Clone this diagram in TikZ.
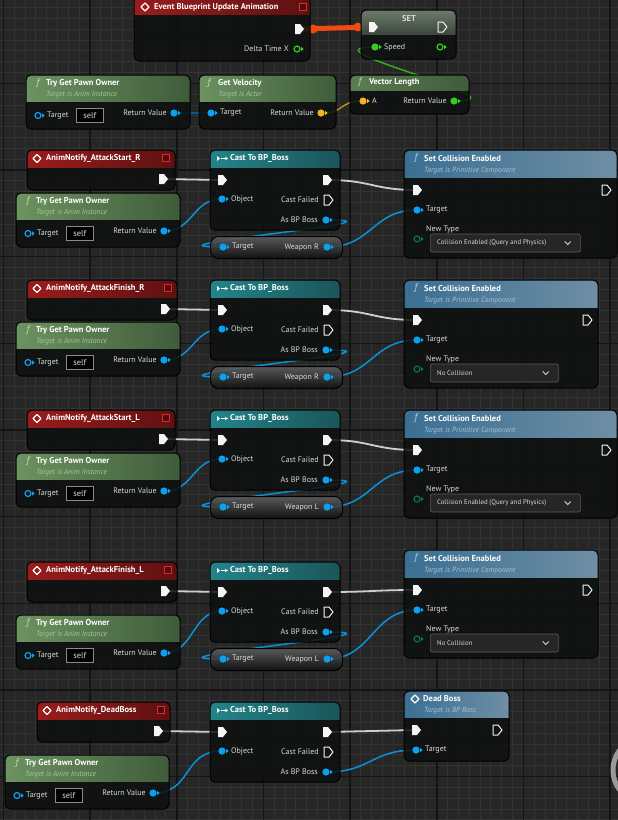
\documentclass[tikz,border=0pt]{standalone}
\usepackage{fontspec}
\setmainfont{PT Sans}
\usetikzlibrary{arrows.meta}

\definecolor{gridbg}{HTML}{262626}
\definecolor{gridminor}{HTML}{333333}
\definecolor{gridmajor}{HTML}{141414}
\definecolor{nodebg}{HTML}{0E1011}
\definecolor{evred}{HTML}{9B1C1C}
\definecolor{evreddark}{HTML}{5E1111}
\definecolor{fngreen}{HTML}{6D9361}
\definecolor{fngreendark}{HTML}{3F5C3A}
\definecolor{castteal}{HTML}{23848A}
\definecolor{casttealdark}{HTML}{1B5559}
\definecolor{callblue}{HTML}{3B6F92}
\definecolor{calllight}{HTML}{6E8EA4}
\definecolor{setgray}{HTML}{6B7C69}
\definecolor{pillgray}{HTML}{5E5E5E}
\definecolor{objblue}{HTML}{0AA2F0}
\definecolor{vecyellow}{HTML}{F2B51C}
\definecolor{floatgreen}{HTML}{38CC1E}
\definecolor{execwhite}{HTML}{F4F4F4}
\definecolor{execgray}{HTML}{CFCFCF}
\definecolor{enumteal}{HTML}{0C6E5A}
\definecolor{wireorange}{HTML}{EE4A12}
\definecolor{labelgray}{HTML}{D8D8D8}
\definecolor{subgreen}{HTML}{A6C69A}
\definecolor{subblue}{HTML}{A6C2D6}
\definecolor{fnlight}{HTML}{C6E4B2}
\definecolor{fnblue}{HTML}{BCD6EA}
\definecolor{stopred}{HTML}{E52828}
\definecolor{stopfill}{HTML}{4A0C0C}
\definecolor{selfgray}{HTML}{8A8A8A}
\definecolor{dropgray}{HTML}{5A5A5A}
\definecolor{ringgray}{HTML}{9A9A9A}

\pgfdeclarelayer{grid}
\pgfdeclarelayer{wires}
\pgfsetlayers{grid,wires,main}

\tikzset{
  bpnode/.style={draw=black, line width=1pt, fill=nodebg, fill opacity=0.86, rounded corners=5pt, anchor=north west, inner sep=0pt, outer sep=0pt},
  head/.style n args={3}{path picture={\shade[sharp corners, fill opacity=1, left color=#2, right color=#3] (path picture bounding box.north west) rectangle ([yshift=-#1]path picture bounding box.north east);}},
  vhead/.style n args={3}{path picture={\shade[sharp corners, fill opacity=1, top color=#2, bottom color=#3] (path picture bounding box.north west) rectangle ([yshift=-#1]path picture bounding box.north east);}},
  pill/.style={draw=black, line width=1pt, top color=pillgray, middle color=nodebg, bottom color=nodebg, fill opacity=0.9, rounded corners=8pt, anchor=north west, inner sep=0pt},
  title/.style={font=\bfseries\fontsize{8.5}{10}\selectfont, text=white, anchor=west, inner sep=0pt},
  sub/.style={font=\itshape\fontsize{7.5}{9}\selectfont, anchor=west, inner sep=0pt},
  lbl/.style={font=\fontsize{8}{9}\selectfont, text=labelgray, anchor=west, inner sep=0pt},
  fnicon/.style={font=\itshape\fontsize{9.5}{10}\selectfont, inner sep=0pt},
  selfbox/.style={draw=selfgray, line width=.7pt, fill=black, anchor=west, minimum width=27pt, minimum height=14pt, inner sep=0pt, font=\fontsize{8.5}{9}\selectfont, text=labelgray},
  dropbox/.style={draw=dropgray, line width=.7pt, fill=black!85, rounded corners=2pt, anchor=west, minimum height=18pt, inner sep=0pt},
  exec wire/.style={draw=execgray, line width=1.8pt},
  obj wire/.style={draw=objblue!90!black, line width=1.5pt},
  vec wire/.style={draw=vecyellow!85!black, line width=1.2pt},
  float wire/.style={draw=floatgreen!85!black, line width=1.5pt},
}

% pins
\newcommand{\xpin}[4]{%
  \coordinate (#1) at (#2,#3);
  \path[#4=execwhite, line width=1pt, line join=round] ([shift={(-4,-5)}]#1) -- ++(5,0) -- ++(4,5) -- ++(-4,5) -- ++(-5,0) -- cycle;}
\newcommand{\dpin}[4]{%
  \coordinate (#1) at (#2,#3);
  \fill[#4] (#1) circle (3.6pt) ([shift={(4.2,-2.2)}]#1) -- ++(2.4,2.2) -- ++(-2.4,2.2) -- cycle;}
\newcommand{\rpin}[4]{%
  \coordinate (#1) at (#2,#3);
  \draw[#4, line width=1.2pt] (#1) circle (3pt);
  \fill[#4] ([shift={(4.2,-2.2)}]#1) -- ++(2.4,2.2) -- ++(-2.4,2.2) -- cycle;}

% header icons
\newcommand{\evicon}[2]{\draw[white, line width=1.2pt, line join=round] (#1-4,#2) -- (#1,#2-4) -- (#1+4,#2) -- (#1,#2+4) -- cycle;}
\newcommand{\stopsq}[2]{\draw[stopred, line width=1pt, fill=stopfill] (#1-3.5,#2-3.5) rectangle (#1+3.5,#2+3.5);}
\newcommand{\casticon}[2]{\fill[white] (#1-4,#2-2.5) -- (#1-1,#2) -- (#1-4,#2+2.5) -- cycle;
  \draw[white, line width=.8pt, -{Stealth[length=3pt,width=3.5pt]}] (#1,#2) -- (#1+7,#2);}

% blueprint nodes
\newcommand{\notify}[5]{%
  \node[bpnode, head={17pt}{evred}{evreddark}, minimum width=#4, minimum height=40] (#1) at (#2,#3) {};
  \evicon{#2+10}{#3+8.5}
  \node[title] (#1-name) at (#2+19,#3+8.5) {#5};
  \stopsq{#2+#4-9}{#3+8}
  \xpin{#1-out}{#2+#4-12}{#3+29}{fill}}
\newcommand{\tgpo}[3]{%
  \node[bpnode, head={26pt}{fngreen}{fngreendark}, minimum width=164, minimum height=54] (#1) at (#2,#3) {};
  \node[fnicon, text=fnlight] (#1-f) at (#2+12,#3+8.5) {f};
  \node[title] (#1-name) at (#2+20,#3+8.5) {Try Get Pawn Owner};
  \node[sub, text=subgreen] (#1-sub) at (#2+20,#3+19.5) {Target is Anim Instance};
  \rpin{#1-tg}{#2+12}{#3+40.5}{objblue}
  \node[lbl] (#1-tl) at (#2+21,#3+40.5) {Target};
  \node[selfbox] (#1-self) at (#2+50,#3+40.5) {self};
  \dpin{#1-ret}{#2+148}{#3+38}{objblue}
  \node[lbl, anchor=east] (#1-rl) at (#2+141,#3+38) {Return Value};}
\newcommand{\cast}[3]{%
  \node[bpnode, head={17pt}{castteal}{casttealdark}, minimum width=130, minimum height=80] (#1) at (#2,#3) {};
  \casticon{#2+11}{#3+8.5}
  \node[title] (#1-name) at (#2+20,#3+8.5) {Cast To BP\_Boss};
  \xpin{#1-in}{#2+12}{#3+30}{fill}
  \xpin{#1-out}{#2+117}{#3+30}{fill}
  \dpin{#1-obj}{#2+12}{#3+49}{objblue}
  \node[lbl] (#1-ol) at (#2+21,#3+49) {Object};
  \xpin{#1-fail}{#2+118}{#3+50}{draw}
  \node[lbl, anchor=east] (#1-fl) at (#2+109,#3+50) {Cast Failed};
  \dpin{#1-as}{#2+116}{#3+70}{objblue}
  \node[lbl, anchor=east] (#1-al) at (#2+108,#3+70) {As BP Boss};}
\newcommand{\getter}[4]{%
  \node[pill, minimum width=132, minimum height=22] (#1) at (#2,#3) {};
  \dpin{#1-t}{#2+13}{#3+11}{objblue}
  \node[lbl] (#1-tl) at (#2+22,#3+11) {Target};
  \dpin{#1-w}{#2+117}{#3+11}{objblue}
  \node[lbl, anchor=east] (#1-wl) at (#2+109,#3+11) {#4};}
\newcommand{\setcoll}[6]{%
  \node[bpnode, head={27pt}{callblue}{calllight}, minimum width=#4, minimum height=108] (#1) at (#2,#3) {};
  \node[fnicon, text=fnblue] (#1-f) at (#2+12,#3+8.5) {f};
  \node[title] (#1-name) at (#2+20,#3+8.5) {Set Collision Enabled};
  \node[sub, text=subblue] (#1-sub) at (#2+20,#3+20.5) {Target is Primitive Component};
  \xpin{#1-in}{#2+13}{#3+40}{fill}
  \xpin{#1-out}{#2+#4-11}{#3+40}{draw}
  \dpin{#1-t}{#2+13}{#3+60}{objblue}
  \node[lbl] (#1-tl) at (#2+22,#3+60) {Target};
  \node[lbl] (#1-nl) at (#2+22,#3+79) {New Type};
  \rpin{#1-nt}{#2+13}{#3+89}{enumteal}
  \node[dropbox, minimum width=#5] (#1-drop) at (#2+26,#3+93) {};
  \node[lbl, font=\fontsize{6.8}{8}\selectfont] (#1-ch) at (#2+33,#3+93) {#6};
  \draw[labelgray, line width=.8pt] ([xshift=-16pt,yshift=1.5pt]#1-drop.east) -- ++(3,3) -- ++(3,-3);}

\begin{document}
\begin{tikzpicture}[x=1pt, y=-1pt]
    \useasboundingbox (0,0) rectangle (618,820);
    % grid
    \begin{pgfonlayer}{grid}
    \fill[gridbg] (0,0) rectangle (618,820);
    \foreach \i in {-1,...,57} \draw[gridminor, line width=1pt] (3.5+10.833*\i,0) -- ++(0,820);
    \foreach \i in {0,...,76} \draw[gridminor, line width=1pt] (0,-3.33+10.833*\i) -- ++(618,0);
    \foreach \i in {0,...,7} \draw[gridmajor, line width=1.4pt] (3.5+86.667*\i,0) -- ++(0,820);
    \foreach \i in {-1,...,9} \draw[gridmajor, line width=1.4pt] (0,83.33+86.667*\i) -- ++(618,0);
    \end{pgfonlayer}

    % update animation
    \node[bpnode, head={18pt}{evred}{evreddark}, minimum width=176, minimum height=65] (ev) at (134,-4) {};
    \evicon{145}{7}
    \node[title] (ev-name) at (154,7) {Event Blueprint Update Animation};
    \stopsq{303}{7}
    \xpin{ev-out}{299}{29}{fill}
    \rpin{ev-dt}{297}{49}{floatgreen}
    \node[lbl, anchor=east] (ev-dtl) at (289,49) {Delta Time X};
    % set speed
    \node[bpnode, vhead={24pt}{setgray}{nodebg}, minimum width=95, minimum height=49] (set) at (361,10) {};
    \node[title, anchor=center, text=labelgray] (set-name) at (409,19) {SET};
    \xpin{set-in}{373}{27}{fill}
    \xpin{set-out}{442}{27}{draw}
    \dpin{set-speed}{375}{47}{floatgreen}
    \node[lbl] (set-sl) at (384,47) {Speed};
    \rpin{set-val}{440}{47}{floatgreen}
    % pawn velocity
    \tgpo{p0}{26}{75}
    \node[bpnode, head={26pt}{fngreen}{fngreendark}, minimum width=137, minimum height=54] (gv) at (199,75) {};
    \node[fnicon, text=fnlight] (gv-f) at (209,83.5) {f};
    \node[title] (gv-name) at (218,83.5) {Get Velocity};
    \node[sub, text=subgreen] (gv-sub) at (218,94.5) {Target is Actor};
    \dpin{gv-t}{211}{113}{objblue}
    \node[lbl] (gv-tl) at (220,113) {Target};
    \dpin{gv-ret}{321}{113}{vecyellow}
    \node[lbl, anchor=east] (gv-rl) at (314,113) {Return Value};
    \node[bpnode, head={15pt}{fngreen!85!black}{fngreendark}, minimum width=119, minimum height=39] (vl) at (350,75) {};
    \node[fnicon, text=fnlight] (vl-f) at (360,82.5) {f};
    \node[title] (vl-name) at (369,82.5) {Vector Length};
    \dpin{vl-a}{363}{101}{vecyellow}
    \node[lbl] (vl-al) at (372,101) {A};
    \dpin{vl-ret}{454}{101}{floatgreen}
    \node[lbl, anchor=east] (vl-rl) at (447,101) {Return Value};

    % attack notifies
    \foreach \k/\y/\txt/\nw/\py/\sy/\wp/\sw/\dw/\ch in {
        1/150/AnimNotify\_AttackStart\_R/148/193/150/Weapon R/213/150/Collision Enabled (Query and Physics),
        2/280/AnimNotify\_AttackFinish\_R/150/322/280/Weapon R/194/128/No Collision,
        3/410/AnimNotify\_AttackStart\_L/148/453/410/Weapon L/213/150/Collision Enabled (Query and Physics),
        4/562/AnimNotify\_AttackFinish\_L/150/615/550/Weapon L/194/128/No Collision} {
        \notify{n\k}{27}{\y}{\nw}{\txt}
        \tgpo{p\k}{16}{\py}
        \cast{c\k}{210}{\y}
        \getter{g\k}{210}{\y+86}{\wp}
        \setcoll{s\k}{404}{\sy}{\sw}{\dw}{\ch}
    }

    % dead boss
    \notify{n5}{37}{702}{133}{AnimNotify\_DeadBoss}
    \tgpo{p5}{5}{755}
    \cast{c5}{210}{702}
    \node[bpnode, head={26pt}{callblue}{calllight}, minimum width=105, minimum height=70] (db) at (404,691) {};
    \evicon{415}{699}
    \node[title] (db-name) at (423,699) {Dead Boss};
    \node[sub, text=subblue] (db-sub) at (424,711) {Target is BP Boss};
    \xpin{db-in}{416}{730}{fill}
    \xpin{db-out}{497}{730}{draw}
    \dpin{db-t}{416}{750}{objblue}
    \node[lbl] (db-tl) at (425,750) {Target};
    % edge of a bubble
    \draw[ringgray, line width=5pt] (646,770) circle (33pt);

    % wires
    \begin{pgfonlayer}{wires}
    \draw[wireorange, line width=5pt] (ev-out) -- (set-in);
    \fill[wireorange] ([xshift=14pt]ev-out) circle (4.5pt) ([xshift=-15pt]set-in) circle (4.5pt);
    \draw[obj wire, draw=objblue!55!black] (p0-ret) -- (gv-t);
    \draw[vec wire] (gv-ret) .. controls +(25,0) and +(-25,0) .. (vl-a);
    \draw[float wire] (vl-ret) .. controls +(80,0) and +(-80,0) .. (set-speed);
    \foreach \k in {1,...,4} {
        \draw[exec wire] (n\k-out) -- (c\k-in);
        \draw[exec wire] (c\k-out) .. controls +(45,0) and +(-45,0) .. (s\k-in);
        \draw[obj wire] (p\k-ret) .. controls +(30,0) and +(-30,0) .. (c\k-obj);
        \draw[obj wire] (c\k-as) .. controls +(100,0) and +(-100,0) .. (g\k-t);
        \draw[obj wire] (g\k-w) .. controls +(45,0) and +(-45,0) .. (s\k-t);
    }
    \draw[exec wire] (n5-out) -- (c5-in);
    \draw[exec wire] (c5-out) -- (db-in);
    \draw[obj wire] (p5-ret) .. controls +(40,0) and +(-40,0) .. (c5-obj);
    \draw[obj wire] (c5-as) .. controls +(45,0) and +(-45,0) .. (db-t);
    \end{pgfonlayer}
\end{tikzpicture}
\end{document}
